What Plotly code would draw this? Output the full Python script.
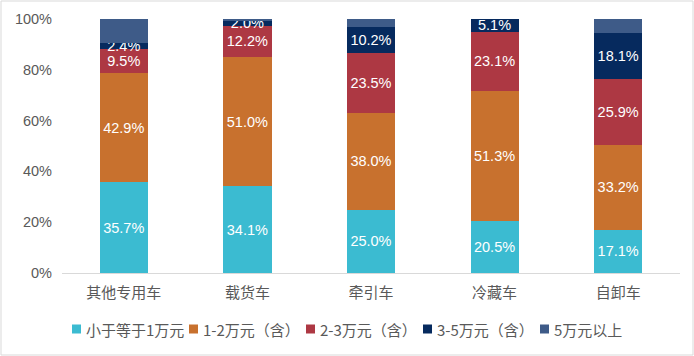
import plotly.graph_objects as go

categories = ["其他专用车", "载货车", "牵引车", "冷藏车", "自卸车"]
series_names = ["小于等于1万元", "1-2万元（含）", "2-3万元（含）", "3-5万元（含）", "5万元以上"]
s_le1 = [35.7, 34.1, 25.0, 20.5, 17.1]
s_1_2 = [42.9, 51.0, 38.0, 51.3, 33.2]
s_2_3 = [9.5, 12.2, 23.5, 23.1, 25.9]
s_3_5 = [2.4, 2.0, 10.2, 5.1, 18.1]
s_gt5 = [9.5, 0.7, 3.3, 0.0, 5.7]
tick_vals = [0, 20, 40, 60, 80, 100]
tick_text = ["0%", "20%", "40%", "60%", "80%", "100%"]

colors = ["#3BBBD1", "#C8712E", "#AD3843", "#062A5E", "#3E5B88"]
series = [s_le1, s_1_2, s_2_3, s_3_5, s_gt5]
show_labels = [True, True, True, True, False]

num_font = "Arial, 'Liberation Sans', 'Noto Sans CJK SC', sans-serif"
cjk_font = "'Noto Sans CJK SC', Arial, sans-serif"

W, H = 694, 356
l, r, t, b = 62, 14, 19, 83
pw, ph = W - l - r, H - t - b


def px(x):
    return (x - l) / pw


def py(y):
    return (t + ph - y) / ph


fig = go.Figure()
for name, vals, col, lab in zip(series_names, series, colors, show_labels):
    fig.add_trace(go.Bar(
        x=categories, y=vals, name=name,
        marker=dict(color=col, line=dict(width=0)),
        text=[f"{v:.1f}%" for v in vals] if lab else None,
        textposition="inside" if lab else "none",
        insidetextanchor="middle",
        textangle=0,
        textfont=dict(color="white", size=14.5, family=num_font),
        hoverinfo="skip",
        showlegend=False,
    ))

# custom compact legend (square swatch + label), laid out like the reference
legend_x = [72, 189, 306, 423, 540]
legend_y = 329
shapes = [dict(type="rect", xref="paper", yref="paper",
               x0=px(1), x1=px(W - 1), y0=py(H - 1), y1=py(1),
               line=dict(color="#D9D9D9", width=1), layer="below")]
annotations = []
for name, col, lx in zip(series_names, colors, legend_x):
    shapes.append(dict(type="rect", xref="paper", yref="paper",
                       x0=px(lx), x1=px(lx + 9), y0=py(legend_y + 4.5), y1=py(legend_y - 4.5),
                       fillcolor=col, line=dict(width=0)))
    annotations.append(dict(text=name, xref="paper", yref="paper", x=px(lx + 12), y=py(legend_y),
                            xanchor="left", yanchor="middle", showarrow=False,
                            font=dict(size=15, color="#595959", family=cjk_font)))

fig.update_layout(
    barmode="stack",
    bargap=0.61,
    width=W, height=H,
    margin=dict(l=l, r=r, t=t, b=b, pad=0, autoexpand=False),
    paper_bgcolor="white", plot_bgcolor="white",
    font=dict(family=num_font, color="#595959", size=14),
    uniformtext=dict(mode="show", minsize=14.5),
    showlegend=False,
    xaxis=dict(showline=True, linecolor="#D9D9D9", linewidth=1, ticks="",
               tickfont=dict(size=15, color="#595959", family=cjk_font),
               ticklabelstandoff=6,
               fixedrange=True),
    yaxis=dict(range=[0, 100], tickvals=tick_vals, ticktext=tick_text, showgrid=False,
               zeroline=False, showline=False, ticks="",
               tickfont=dict(size=14.5, color="#595959", family=num_font),
               ticklabelstandoff=9,
               fixedrange=True),
    shapes=shapes,
    annotations=annotations,
)

fig.write_html("out.html", config={"displayModeBar": False},
               post_script="document.body.style.margin='0';document.body.style.padding='0';")
